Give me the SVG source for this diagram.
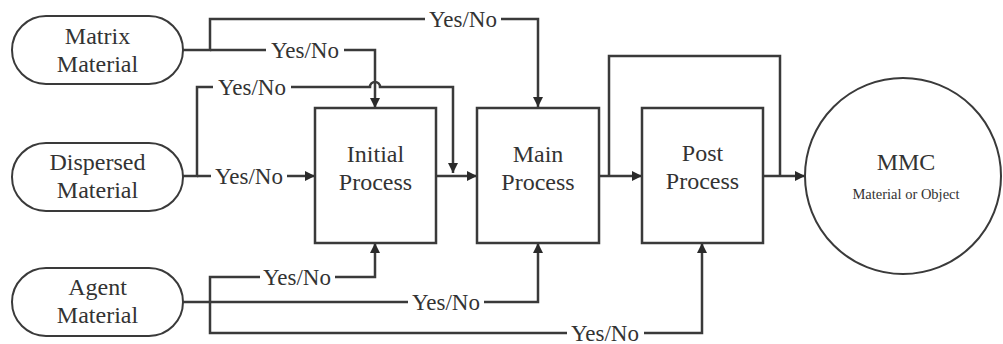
<svg xmlns="http://www.w3.org/2000/svg" width="1003" height="344" viewBox="0 0 1003 344">
<style>
.bg{fill:#ffffff}
.pill{fill:#ffffff;stroke:#3a3a3a;stroke-width:2}
.box{fill:#ffffff;stroke:#3a3a3a;stroke-width:2.5}
.circ{fill:#ffffff;stroke:#3a3a3a;stroke-width:2}
.lbl{font-size:24px;fill:#333333;text-anchor:middle}
.yn{font-size:23px;fill:#333333;text-anchor:middle}
.small{font-size:14.5px;fill:#333333;text-anchor:middle}
.c{fill:none;stroke:#3a3a3a;stroke-width:2.5}
</style>
<defs>
<marker id="arr" markerUnits="userSpaceOnUse" markerWidth="11" markerHeight="11" refX="10" refY="5" orient="auto">
<path d="M0,0 L10,5 L0,10 z" fill="#2a2a2a"/>
</marker>
</defs>
<rect class="bg" x="0" y="0" width="1003" height="344"/>
<g font-family="Liberation Serif, Tinos, DejaVu Serif, serif">
<g id="connectors">
<path class="c" d="M183,50 H210 V19 H425"/>
<path class="c" d="M501,19 H538 V107" marker-end="url(#arr)"/>
<path class="c" d="M210,50 H266"/>
<path class="c" d="M344,50 H375 V108" marker-end="url(#arr)"/>
<path class="c" d="M183,176 H197 V87 H213"/>
<path class="c" d="M291,87 H370 A5,5 0 0 1 380,87 H453 V173" marker-end="url(#arr)"/>
<path class="c" d="M197,176 H211"/>
<path class="c" d="M287,176 H315" marker-end="url(#arr)"/>
<path class="c" d="M436,176 H477" marker-end="url(#arr)"/>
<path class="c" d="M599,176 H642" marker-end="url(#arr)"/>
<path class="c" d="M609,176 V56 H780 V176"/>
<path class="c" d="M763,176 H805" marker-end="url(#arr)"/>
<path class="c" d="M210,302 V277 H260"/>
<path class="c" d="M335,277 H375 V243" marker-end="url(#arr)"/>
<path class="c" d="M183,302 H408"/>
<path class="c" d="M484,302 H538 V243" marker-end="url(#arr)"/>
<path class="c" d="M210,302 V333 H567"/>
<path class="c" d="M644,333 H702 V243" marker-end="url(#arr)"/>
<text class="yn" x="463" y="27">Yes/No</text>
<text class="yn" x="305" y="58">Yes/No</text>
<text class="yn" x="252" y="95">Yes/No</text>
<text class="yn" x="249" y="184">Yes/No</text>
<text class="yn" x="297" y="285">Yes/No</text>
<text class="yn" x="446" y="310">Yes/No</text>
<text class="yn" x="605" y="341">Yes/No</text>
</g>

<g id="matrix">
<rect class="pill" x="12" y="16" width="171" height="68" rx="34" ry="34"/>
<text class="lbl" x="97.5" y="44">Matrix</text>
<text class="lbl" x="97.5" y="72">Material</text>
</g>
<g id="dispersed">
<rect class="pill" x="12" y="143" width="171" height="68" rx="34" ry="34"/>
<text class="lbl" x="97.5" y="170">Dispersed</text>
<text class="lbl" x="97.5" y="198">Material</text>
</g>
<g id="agent">
<rect class="pill" x="12" y="268" width="171" height="68" rx="34" ry="34"/>
<text class="lbl" x="97.5" y="295">Agent</text>
<text class="lbl" x="97.5" y="323">Material</text>
</g>
<g id="initial">
<rect class="box" x="315" y="108" width="121" height="135"/>
<text class="lbl" x="375.5" y="162">Initial</text>
<text class="lbl" x="375.5" y="190">Process</text>
</g>
<g id="main">
<rect class="box" x="477" y="108" width="122" height="135"/>
<text class="lbl" x="538" y="162">Main</text>
<text class="lbl" x="538" y="190">Process</text>
</g>
<g id="post">
<rect class="box" x="642" y="108" width="121" height="135"/>
<text class="lbl" x="702.5" y="161">Post</text>
<text class="lbl" x="702.5" y="189">Process</text>
</g>
<g id="mmc">
<circle class="circ" cx="903" cy="176" r="98"/>
<text class="lbl" x="906" y="170">MMC</text>
<text class="small" x="906" y="199">Material or Object</text>
</g>
</g>
</svg>
